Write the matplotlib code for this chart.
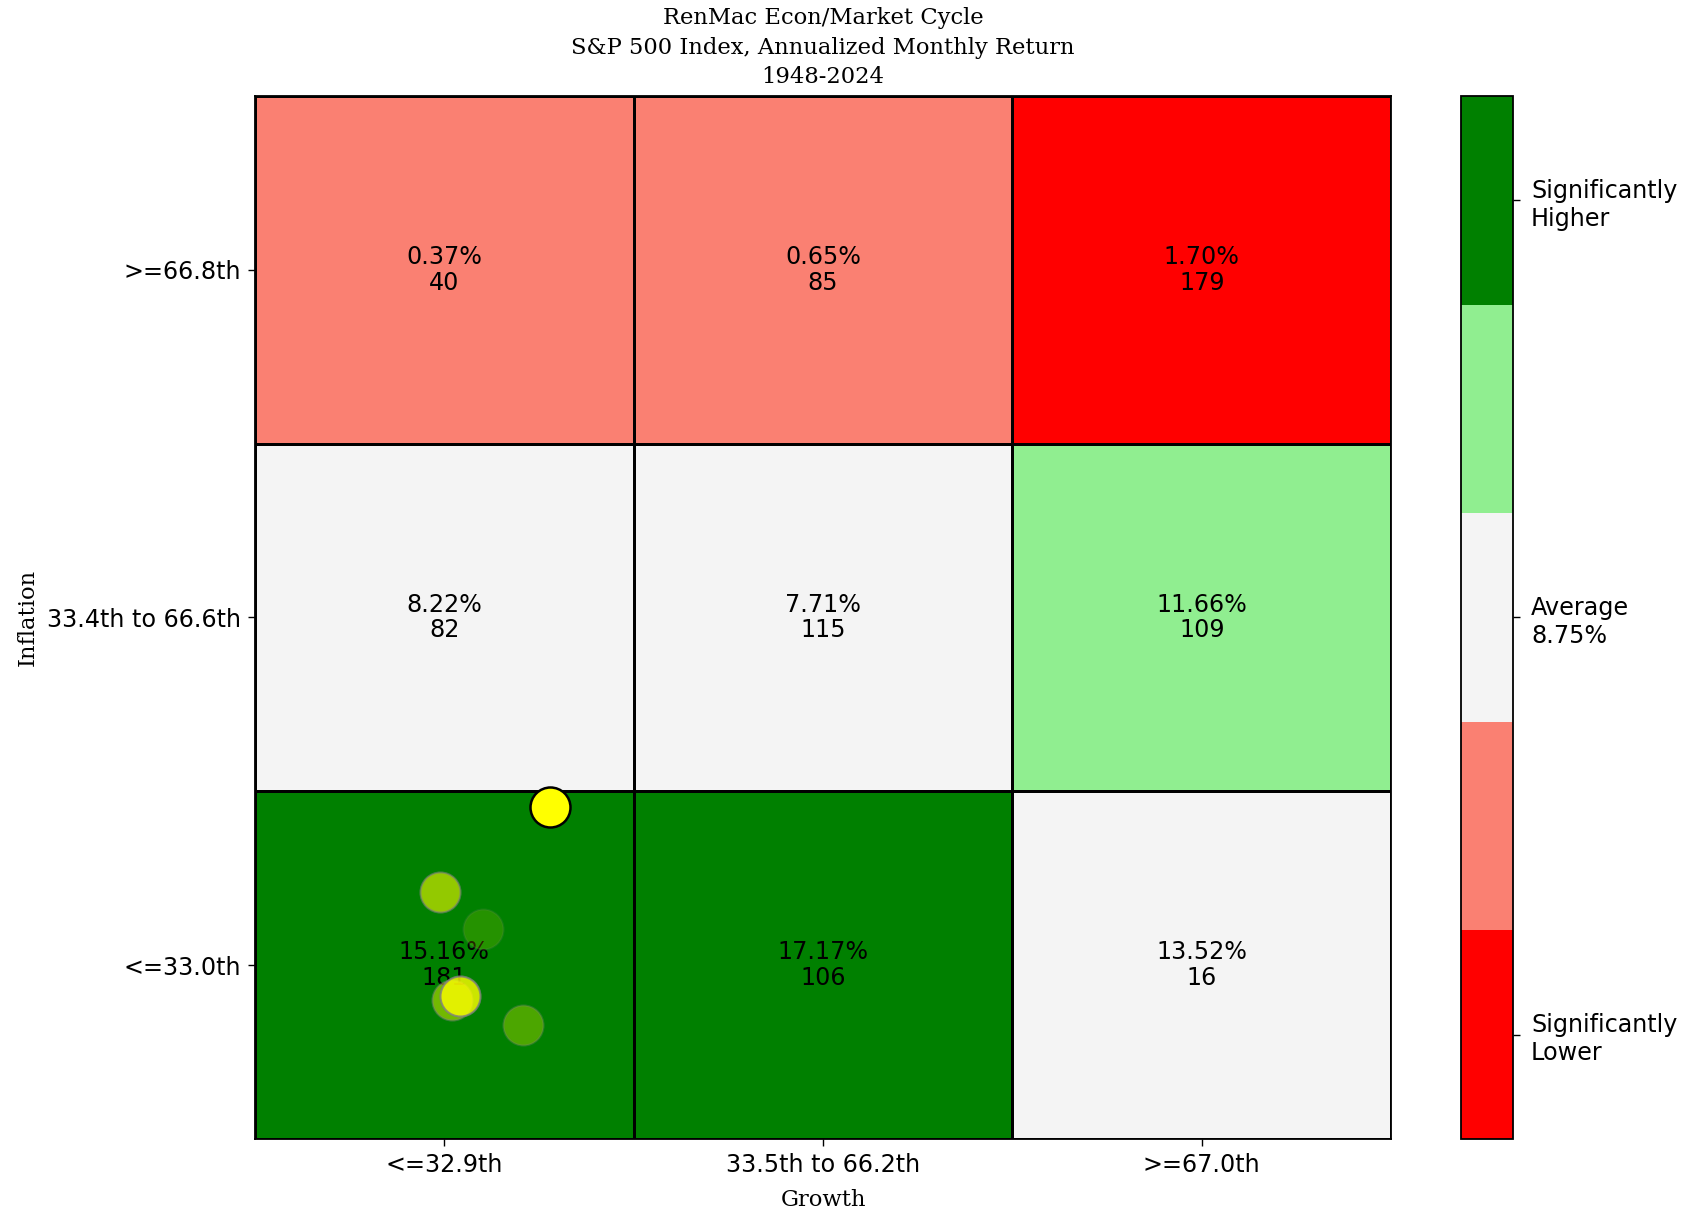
import matplotlib
matplotlib.use("Agg")
import matplotlib.pyplot as plt
import numpy as np
from matplotlib.colors import ListedColormap, BoundaryNorm

# ---- data ----
growth_labels = ["<=32.9th", "33.5th to 66.2th", ">=67.0th"]
inflation_labels = ["<=33.0th", "33.4th to 66.6th", ">=66.8th"]  # bottom to top
# returns[row][col], row 0 = bottom (<=33.0th inflation)
returns = [[15.16, 17.17, 13.52],
           [8.22, 7.71, 11.66],
           [0.37, 0.65, 1.70]]
counts = [[181, 106, 16],
          [82, 115, 109],
          [40, 85, 179]]
# category: 0 sig lower, 1 lower, 2 average, 3 higher, 4 sig higher
categories = [[4, 4, 2],
              [2, 2, 3],
              [1, 1, 0]]
cat_colors = ["#ff0000", "#fa8072", "#f4f4f4", "#90ee90", "#008000"]
cbar_labels = ["Significantly\nLower", "Average\n8.75%", "Significantly\nHigher"]

# recent trail of positions (growth, inflation in cell units)
trail_x = [0.601, 0.707, 0.519, 0.489, 0.541, 0.779]
trail_y = [0.604, 0.328, 0.400, 0.711, 0.411, 0.955]
trail_alpha = [0.15, 0.30, 0.45, 0.58, 0.80, 1.0]

title = "RenMac Econ/Market Cycle\nS&P 500 Index, Annualized Monthly Return\n1948-2024"

# ---- plot ----
fig = plt.figure(figsize=(16.97, 12.10), dpi=100)
ax = fig.add_axes([0.1503, 0.0587, 0.6694, 0.862])
cax = fig.add_axes([0.861, 0.0587, 0.0306, 0.862])

cmap = ListedColormap(cat_colors)
norm = BoundaryNorm(np.arange(-0.5, 5.5, 1), cmap.N)
cat_arr = np.array(categories)
ax.pcolormesh(np.arange(4), np.arange(4), cat_arr, cmap=cmap, norm=norm,
              edgecolors="black", linewidth=1.0)

for r in range(3):
    for c in range(3):
        ax.text(c + 0.5, r + 0.5, f"{returns[r][c]:.2f}%\n{counts[r][c]}",
                ha="center", va="center", fontsize=17.2, color="black",
                family="DejaVu Sans", linespacing=1.1)

for x, y, a in zip(trail_x, trail_y, trail_alpha):
    if a >= 1.0:
        ax.scatter([x], [y], s=830, color="yellow", edgecolors="black",
                   linewidths=1.8, zorder=5, clip_on=False)
    else:
        ax.scatter([x], [y], s=830, color="yellow", edgecolors="grey",
                   linewidths=1.5, alpha=a, zorder=4)

ax.set_xlim(0, 3)
ax.set_ylim(0, 3)
ax.set_xticks([0.5, 1.5, 2.5])
ax.set_xticklabels(growth_labels, fontsize=17.2)
ax.set_yticks([0.5, 1.5, 2.5])
ax.set_yticklabels(inflation_labels, fontsize=17.2)
ax.tick_params(length=5, width=1.0, pad=5)
for s in ax.spines.values():
    s.set_linewidth(1.3)
ax.set_xlabel("Growth", family="DejaVu Serif", fontsize=16.3, labelpad=9)
ax.set_ylabel("Inflation", family="DejaVu Serif", fontsize=16.3, labelpad=6)
ax.set_title(title, family="DejaVu Serif", fontsize=16.3, pad=9, linespacing=1.45)

# colorbar
cb = matplotlib.colorbar.ColorbarBase(cax, cmap=cmap, norm=norm,
                                      ticks=[0, 2, 4], orientation="vertical")
cb.set_ticklabels(cbar_labels)
cax.minorticks_off()
cax.tick_params(labelsize=17.2, length=5, width=1.0, pad=8)
cb.outline.set_linewidth(1.3)

fig.savefig("out.png", dpi=100)
